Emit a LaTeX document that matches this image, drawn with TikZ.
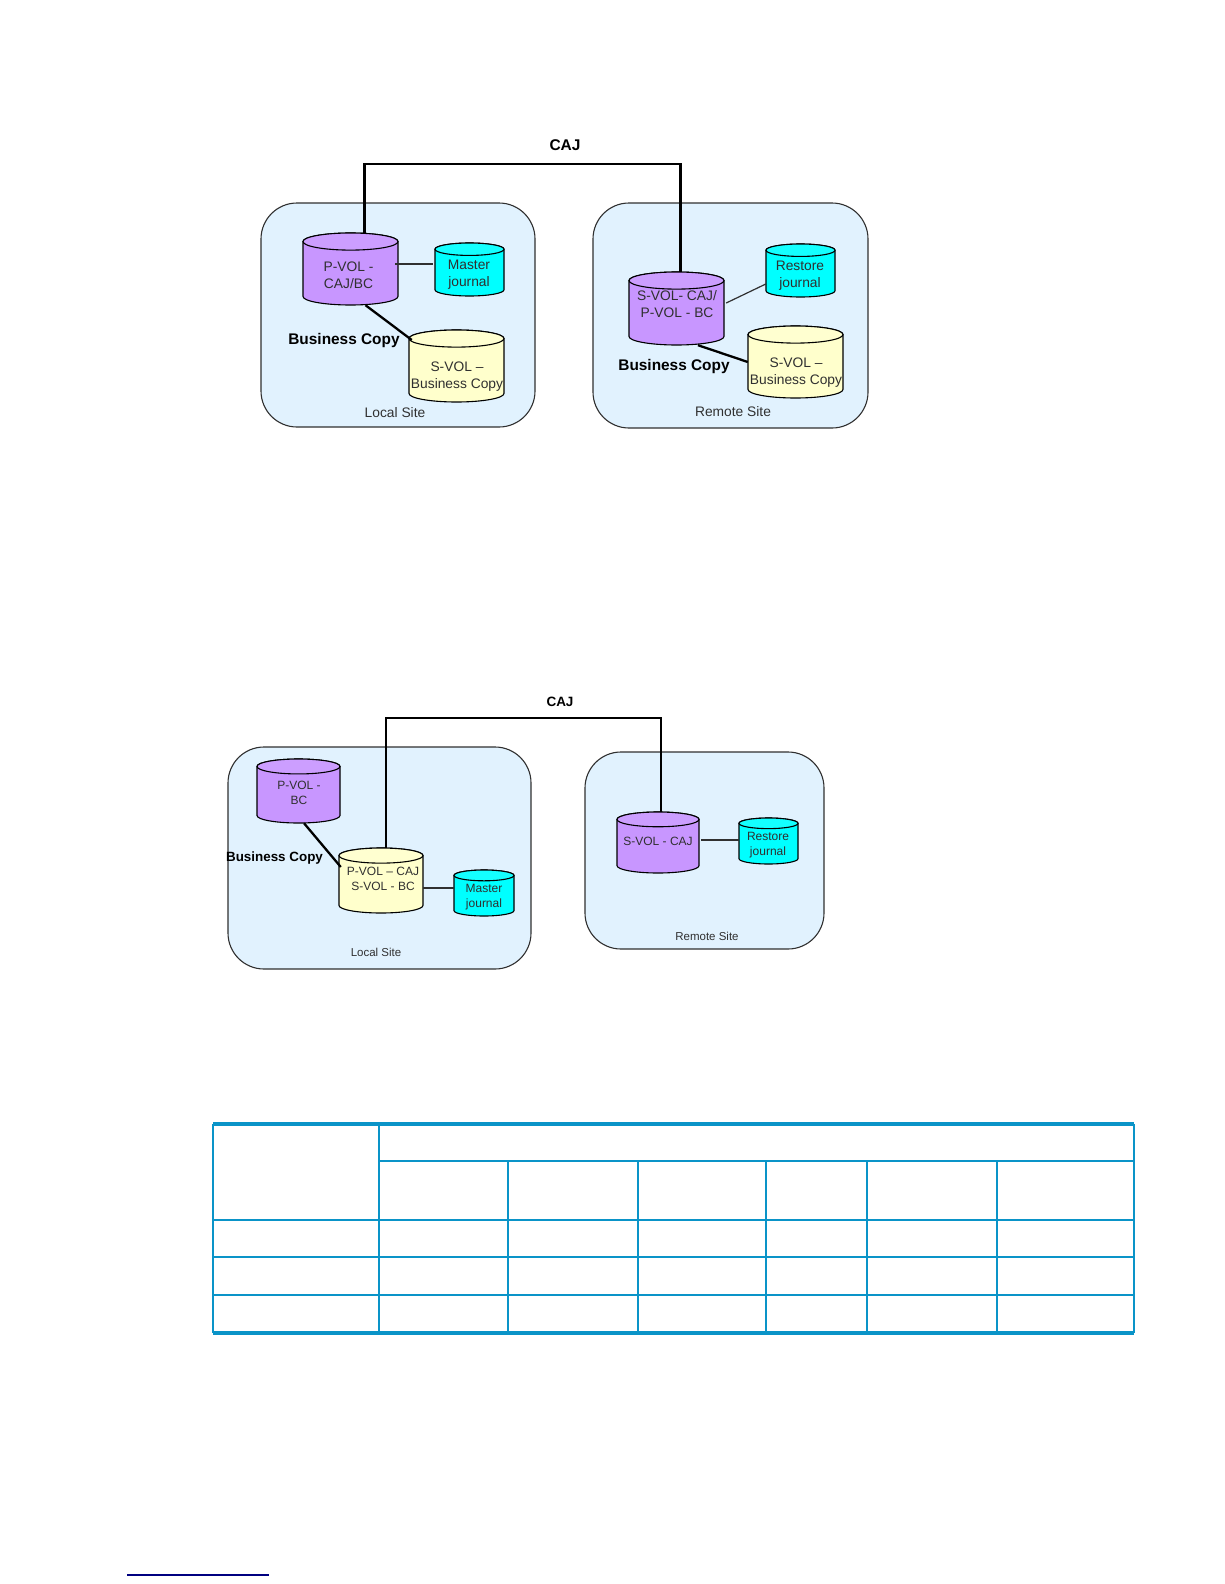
\documentclass[tikz,border=0pt]{standalone}
\usepackage{fontspec}
\setmainfont{Liberation Sans}
\usetikzlibrary{calc}
\definecolor{sitefill}{HTML}{E1F2FE}
\definecolor{volpurple}{HTML}{C896FF}
\definecolor{voljournal}{HTML}{00FFFF}
\definecolor{volyellow}{HTML}{FFFFCC}
\definecolor{tableblue}{HTML}{0A94C8}
\definecolor{inkgrey}{HTML}{303030}
\tikzset{
  site/.style={draw=inkgrey,line width=1.1pt,fill=sitefill,rounded corners=36pt,inner sep=0pt},
  volline/.style={draw=black,line width=1.1pt},
  voltext/.style={align=center,inner sep=0pt,text=inkgrey},
  link/.style={line width=2.3pt,black},
  thin link/.style={line width=1.2pt,inkgrey},
  big/.style={font=\fontsize{13.8}{17}\selectfont},
  small/.style={font=\fontsize{12}{14.5}\selectfont},
  tag/.style={text=black,inner sep=0pt},
  grid line/.style={tableblue,line width=1.1pt},
  band/.style={tableblue,line width=4pt}
}
% name, fill, text style, x, y, width, height, text shift (dx,dy), text
\newcommand{\volume}[9]{
  \pgfmathsetmacro{\rx}{#6/2}
  \pgfmathsetmacro{\ry}{#6*0.09}
  \pgfmathsetmacro{\hh}{#7/2-\ry}
  \draw[volline,fill=#2] (#4-\rx,#5-\hh) -- (#4-\rx,#5+\hh)
    arc[start angle=180,end angle=360,x radius=\rx pt,y radius=\ry pt] -- (#4+\rx,#5-\hh)
    arc[start angle=0,end angle=180,x radius=\rx pt,y radius=\ry pt] -- cycle;
  \draw[volline,fill=#2!92!white] (#4,#5-\hh) ellipse[x radius=\rx pt,y radius=\ry pt];
  \node[minimum width=#6pt,minimum height=#7pt,inner sep=0pt] (#1) at (#4,#5) {};
  \node[voltext,#3] (#1text) at ($(#1.center)+(#8)$) {#9};
}
\begin{document}
\begin{tikzpicture}[x=1pt,y=-1pt]
\useasboundingbox (0,0) rectangle (1224,1584);
% upper diagram
\node[site,minimum width=274pt,minimum height=224pt] (localA) at (398,315) {};
\node[site,minimum width=275pt,minimum height=225pt] (remoteA) at (730.5,315.5) {};
\volume{pvolA}{volpurple}{big}{350.5}{269}{95}{72}{-2,6.5}{P-VOL -\\CAJ/BC}
\volume{masterA}{voljournal}{big}{469.5}{269.5}{69}{53}{-0.5,5}{Master\\journal}
\volume{bcopyA}{volyellow}{big}{456.5}{366}{95}{72}{0.5,11}{S-VOL --\\Business Copy}
\volume{svolA}{volpurple}{big}{676.5}{308.5}{95}{73}{0.5,-4}{S-VOL- CAJ/\\P-VOL - BC}
\volume{restoreA}{voljournal}{big}{800.5}{270.5}{69}{53}{-0.5,5}{Restore\\journal}
\volume{rcopyA}{volyellow}{big}{795.5}{362}{95}{72}{0.5,10.5}{S-VOL --\\Business Copy}
\coordinate (cornerA) at (500,164);
\draw[link] ([xshift=14pt]pvolA.north) |- (cornerA) -| ([xshift=4pt]svolA.north);
\draw[thin link] ([xshift=-3pt,yshift=5pt]pvolA.east) -- ([xshift=-2pt,yshift=5.5pt]masterA.west);
\draw[thin link] ([xshift=2pt,yshift=5.5pt]svolA.east) -- ([yshift=-13.5pt]restoreA.west);
\draw[link] ([xshift=15pt]pvolA.south) -- ([xshift=3pt,yshift=26pt]bcopyA.west);
\draw[link] ([xshift=21.5pt]svolA.south) -- (rcopyA.west);
\node[tag,font=\bfseries\fontsize{15.5}{17}\selectfont] (cajA) at (565,145) {CAJ};
\node[tag,font=\bfseries\fontsize{15.4}{17}\selectfont] (copyA) at (344,340.5) {Business Copy};
\node[tag,font=\bfseries\fontsize{15.4}{17}\selectfont] (copyB) at (674,367) {Business Copy};
\node[big,text=inkgrey] (localtagA) at (395,413) {Local Site};
\node[big,text=inkgrey] (remotetagA) at (733,412) {Remote Site};
% lower diagram
\node[site,minimum width=303pt,minimum height=222pt] (localB) at (379.5,858) {};
\node[site,minimum width=239pt,minimum height=197pt] (remoteB) at (704.5,850.5) {};
\volume{pvolB}{volpurple}{small}{298.5}{791}{83}{64}{0.5,2}{P-VOL -\\BC}
\volume{svolB}{volyellow}{small}{381}{880.5}{84}{65}{2,-1.5}{P-VOL -- CAJ\\S-VOL - BC}
\volume{masterB}{voljournal}{small}{484}{893}{60}{46}{0,4}{Master\\journal}
\volume{scajB}{volpurple}{small}{658}{842.5}{82}{61}{0,-1.5}{S-VOL - CAJ}
\volume{restoreB}{voljournal}{small}{768.5}{841}{59}{46}{-0.5,4}{Restore\\journal}
\coordinate (cornerB) at (500,718);
\draw[link] ([xshift=5pt]svolB.north) |- (cornerB) -| ([xshift=3pt]scajB.north);
\draw[thin link] ([yshift=-7.5pt]svolB.east) -- ([yshift=5pt]masterB.west);
\draw[thin link] ([xshift=2pt,yshift=2.5pt]scajB.east) -- ([yshift=1pt]restoreB.west);
\draw[link] ([xshift=5.5pt]pvolB.south) -- ([xshift=2pt,yshift=13.5pt]svolB.west);
\node[tag,font=\bfseries\fontsize{13.5}{15}\selectfont] (cajB) at (560,702) {CAJ};
\node[tag,font=\bfseries\fontsize{13.4}{15}\selectfont] (copyC) at (274.5,858) {Business Copy};
\node[small,text=inkgrey,font=\fontsize{11.5}{14}\selectfont] (localtagB) at (376,952) {Local Site};
\node[small,text=inkgrey,font=\fontsize{11.5}{14}\selectfont] (remotetagB) at (707,936) {Remote Site};
% empty table
\foreach \yy in {1257,1295} \draw[grid line] (213,\yy) -- (1134,\yy);
\draw[grid line] (379,1161) -- (1134,1161);
\foreach \xx in {213,379,1134} \draw[grid line] (\xx,1124) -- (\xx,1333);
\foreach \xx in {508,638,766,867,997} \draw[grid line] (\xx,1161) -- (\xx,1333);
\draw[tableblue,line width=2.6pt] (213,1220) -- (1134,1220);
\draw[band] (213,1124) -- (1134,1124);
\draw[band] (213,1333) -- (1134,1333);
% footnote rule
\draw[blue!50!black,line width=1.2pt] (127,1575) -- (269,1575);
\end{tikzpicture}
\end{document}
